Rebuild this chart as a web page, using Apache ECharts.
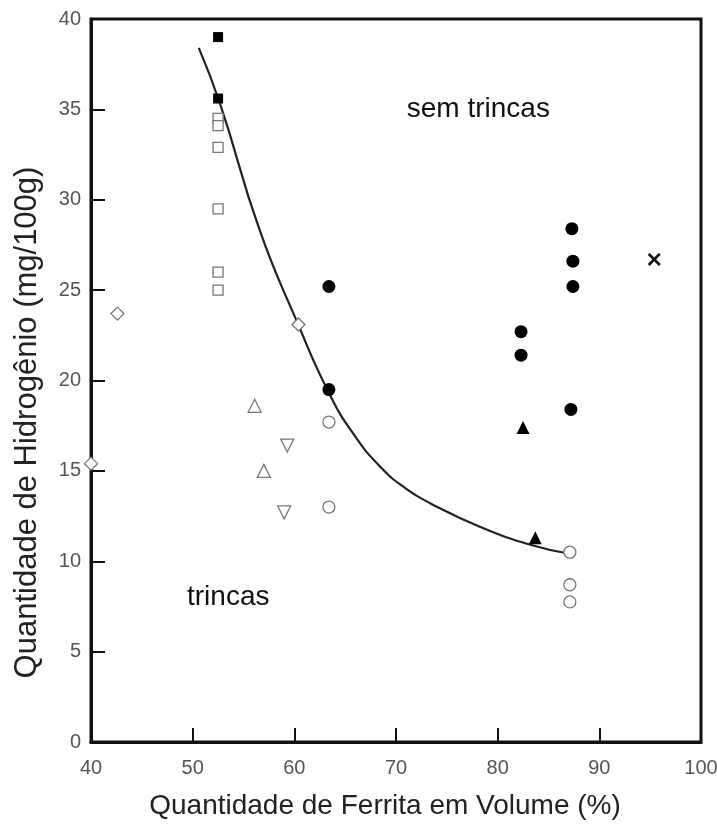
<!DOCTYPE html>
<html>
<head>
<meta charset="utf-8">
<title>Hidrogênio x Ferrita</title>
<script src="https://cdn.jsdelivr.net/npm/echarts@6/dist/echarts.min.js"></script>
<style>
  html, body { margin: 0; padding: 0; background: #fff; }
  #chart { width: 717px; height: 825px; }
</style>
</head>
<body>
<div id="chart"></div>
<script>
// pontos: [ferrita %, hidrogênio mg/100g]
const quadradoCheio = [[52.5, 39.0], [52.5, 35.6]]
const quadradoAberto = [[52.5, 34.5], [52.5, 34.1], [52.5, 32.9], [52.5, 29.5], [52.5, 26.0], [52.5, 25.0]]
const losangoAberto = [[42.6, 23.7], [60.4, 23.1], [40.0, 15.4]]
const trianguloAberto = [[56.1, 18.6], [57.0, 15.0]]
const trianguloInvertido = [[59.3, 16.4], [59.0, 12.7]]
const circuloAberto = [[63.4, 17.7], [63.4, 13.0], [87.1, 10.5], [87.1, 8.7], [87.1, 7.75]]
const circuloCheio = [[63.4, 25.2], [63.4, 19.5], [82.3, 22.7], [82.3, 21.4], [87.3, 28.4], [87.4, 26.6], [87.4, 25.2], [87.2, 18.4]]
const trianguloCheio = [[82.5, 17.4], [83.7, 11.3]]
const cruz = [[95.4, 26.7]]
// curva limite
const curva = [[50.6, 38.4], [52.7, 35.3], [56.6, 28.3], [60.3, 23.2], [63.5, 19.2], [66.0, 16.9], [68.5, 15.2], [70.9, 14.05], [73.4, 13.2], [78.3, 11.9], [83.3, 10.9], [87.2, 10.4]]
// rótulos de região
const rotulos = [[78.1, 35.0, 'sem trincas'], [53.5, 8.0, 'trincas']]

const chart = echarts.init(document.getElementById('chart'))

const aberto = { color: '#fff', borderColor: '#777', borderWidth: 1.3, opacity: 1 }
const cheio = { color: '#000', opacity: 1 }
const fonte = 'Liberation Sans, Arial, sans-serif'

function pontos (data, symbol, size, style, rotate) {
  return {
    type: 'scatter',
    data: data,
    symbol: symbol,
    symbolSize: size,
    symbolRotate: rotate || 0,
    itemStyle: style,
    z: 3
  }
}

const option = {
  animation: false,
  grid: {
    left: 91,
    top: 19,
    right: 16,
    bottom: 83,
    outerBoundsMode: 'none',
    containLabel: false,
    show: true,
    borderColor: '#111',
    borderWidth: 3
  },
  xAxis: {
    type: 'value',
    min: 40,
    max: 100,
    interval: 10,
    name: 'Quantidade de Ferrita em Volume (%)',
    nameLocation: 'middle',
    nameGap: 50,
    nameTextStyle: { fontSize: 28, color: '#222', fontFamily: fonte, padding: [0, 22, 0, 0] },
    axisLine: { show: true, lineStyle: { color: '#111', width: 3 } },
    axisTick: { show: true, inside: true, length: 14, lineStyle: { color: '#111', width: 2 } },
    axisLabel: { fontSize: 20, color: '#555', margin: 16, fontFamily: fonte },
    splitLine: { show: false }
  },
  yAxis: {
    type: 'value',
    min: 0,
    max: 40,
    interval: 5,
    name: 'Quantidade de Hidrogênio (mg/100g)',
    nameLocation: 'middle',
    nameGap: 48,
    nameTextStyle: { fontSize: 31, color: '#222', fontFamily: fonte, padding: [0, 84, 0, 0] },
    axisLine: { show: true, lineStyle: { color: '#111', width: 3 } },
    axisTick: { show: true, inside: true, length: 14, lineStyle: { color: '#111', width: 2 } },
    axisLabel: { fontSize: 20, color: '#555', margin: 10, fontFamily: fonte },
    splitLine: { show: false }
  },
  series: [
    {
      type: 'line',
      data: curva,
      smooth: 0.5,
      showSymbol: false,
      lineStyle: { color: '#222', width: 2.2 },
      z: 2
    },
    pontos(quadradoCheio, 'rect', 10, cheio),
    pontos(quadradoAberto, 'rect', 10, aberto),
    pontos(losangoAberto, 'diamond', 13, aberto),
    pontos(trianguloAberto, 'triangle', 13, aberto),
    pontos(trianguloInvertido, 'triangle', 13, aberto, 180),
    pontos(circuloAberto, 'circle', 12, aberto),
    pontos(circuloCheio, 'circle', 13, cheio),
    pontos(trianguloCheio, 'triangle', 13, cheio),
    pontos(cruz, 'path://M0,1.5L1.5,0L5,3.5L8.5,0L10,1.5L6.5,5L10,8.5L8.5,10L5,6.5L1.5,10L0,8.5L3.5,5Z', 13, { color: '#111', opacity: 1 }),
    {
      type: 'scatter',
      data: rotulos.map(r => ({ value: [r[0], r[1]], name: r[2] })),
      symbolSize: 0,
      silent: true,
      itemStyle: { opacity: 1 },
      label: {
        show: true,
        position: 'inside',
        formatter: p => p.name,
        fontSize: 28,
        color: '#111',
        opacity: 1,
        fontFamily: fonte
      }
    }
  ]
}

chart.setOption(option)
</script>
</body>
</html>
